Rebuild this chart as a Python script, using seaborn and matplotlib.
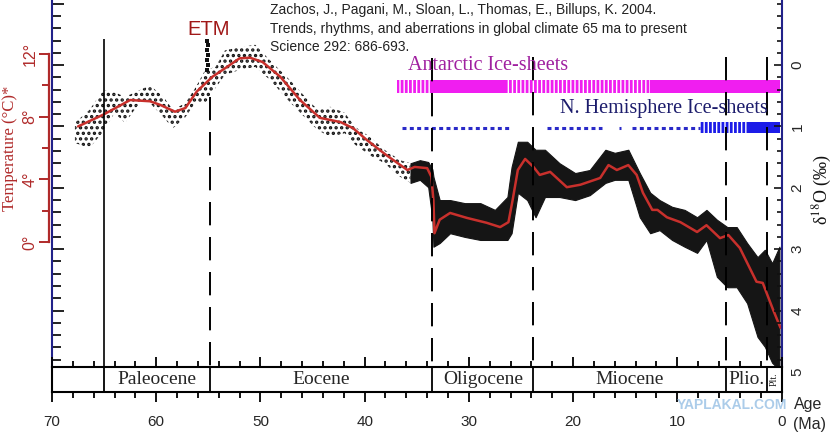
import numpy as np
import pandas as pd
import seaborn as sns
import matplotlib.pyplot as plt
import matplotlib.transforms as mtransforms
from matplotlib.ticker import MultipleLocator, FixedLocator

# smoothed d18O curve (age in Ma, d18O in permil)
curve_age = [67.5, 65.1, 62.5, 60.6, 59.6, 58.2, 57.2, 56.1, 54.6, 53.2,
             52.0, 51.0, 49.8, 48.1, 46.2, 44.3, 42.3, 41.1, 39.8, 37.9,
             35.9, 35.2, 34.0, 33.6, 33.4, 33.3, 32.8, 31.8, 30.2, 28.3,
             27.0, 26.2, 25.8, 25.3, 24.6, 23.8, 23.2, 22.2, 20.6, 19.3,
             17.4, 16.6, 15.8, 14.7, 13.9, 13.3, 12.4, 11.9, 11.0, 9.7,
             8.1, 7.2, 5.9, 5.1, 4.0, 2.4, 1.8, 0.8, 0.1]
curve_d18o = [1.00, 0.81, 0.57, 0.59, 0.65, 0.76, 0.70, 0.43, 0.19, 0.03,
              -0.11, -0.12, -0.05, 0.19, 0.57, 0.86, 0.93, 1.03, 1.22, 1.47,
              1.71, 1.66, 1.68, 1.82, 2.20, 2.74, 2.52, 2.41, 2.49, 2.57,
              2.64, 2.56, 2.20, 1.71, 1.53, 1.66, 1.79, 1.74, 1.99, 1.95,
              1.84, 1.63, 1.71, 1.63, 1.79, 2.08, 2.36, 2.36, 2.48, 2.56,
              2.72, 2.61, 2.82, 2.77, 2.98, 3.53, 3.55, 3.99, 4.28]

# spread of the sparse early data points
early_age = [67.8, 66.4, 65.1, 64.0, 63.0, 61.6, 60.6, 59.3, 58.4, 57.2,
             56.2, 55.3, 54.3, 53.4, 52.0, 50.5, 49.1, 47.2, 45.7, 44.5,
             43.3, 41.9, 40.9, 39.5, 38.1, 36.6, 35.6]
early_top = [0.94, 0.73, 0.41, 0.44, 0.52, 0.41, 0.33, 0.52, 0.73, 0.62,
             0.36, 0.08, 0.03, -0.24, -0.29, -0.33, -0.08, 0.24, 0.52, 0.73,
             0.68, 0.78, 1.01, 1.17, 1.38, 1.55, 1.60]
early_bot = [1.27, 1.35, 1.09, 0.78, 0.94, 0.62, 0.62, 0.85, 1.03, 0.85,
             0.60, 0.62, 0.37, 0.16, 0.08, 0.03, 0.24, 0.60, 0.86, 1.06,
             1.17, 1.11, 1.30, 1.47, 1.60, 1.82, 1.92]

# spread of the dense late data points
dense_age = [35.6, 34.7, 33.9, 33.5, 33.4, 32.8, 31.8, 30.4, 28.9, 27.5,
             26.3, 25.9, 25.3, 24.4, 23.6, 22.7, 21.3, 19.8, 18.4, 16.9,
             16.0, 14.7, 13.6, 12.6, 11.7, 10.5, 9.3, 8.1, 7.2, 6.2,
             5.2, 4.3, 3.3, 2.3, 1.6, 0.9, 0.2]
dense_top = [1.60, 1.55, 1.58, 1.70, 1.82, 2.20, 2.20, 2.25, 2.25, 2.36,
             2.15, 1.66, 1.25, 1.25, 1.38, 1.38, 1.60, 1.76, 1.71, 1.38,
             1.43, 1.38, 1.76, 2.08, 2.20, 2.31, 2.36, 2.48, 2.36, 2.52,
             2.64, 2.64, 2.90, 3.13, 3.01, 3.23, 2.96]
dense_bot = [1.92, 1.87, 1.99, 2.50, 2.96, 2.90, 2.74, 2.80, 2.85, 2.85,
             2.85, 2.74, 2.08, 2.20, 2.48, 2.15, 2.15, 2.20, 2.12, 1.92,
             1.87, 1.87, 2.48, 2.74, 2.69, 2.85, 2.96, 3.06, 2.85, 3.45,
             3.62, 3.62, 3.88, 4.43, 4.59, 4.85, 4.97]

# ETM spike
etm_age = [55.1, 55.0, 55.1, 55.0, 55.1, 55.0, 55.1]
etm_d18o = [-0.40, -0.32, -0.24, -0.16, -0.08, 0.00, 0.08]

# epochs
epoch_edges = [70.0, 65.0, 54.8, 33.5, 23.8, 5.3, 1.4, 0.0]
epoch_names = ["", "Paleocene", "Eocene", "Oligocene", "Miocene", "Plio.", "Plt."]

# ice sheets
ant_start = [36.9, 33.5, 26.4, 12.6]
ant_end = [33.5, 26.4, 12.6, 0.1]
ant_kind = ["partial", "full", "partial", "full"]
nh_start = [36.4, 22.5, 15.6, 14.3, 7.8, 3.3]
nh_end = [26.1, 17.2, 15.4, 7.8, 3.3, 0.1]
nh_kind = ["minor", "minor", "minor", "minor", "partial", "full"]

temp_ticks = [0, 4, 8, 12]
d18o_ticks = [0, 1, 2, 3, 4, 5]
age_ticks = [70, 60, 50, 40, 30, 20, 10, 0]

# %%
sns.set_style("white")
plt.rcParams['font.family'] = ['Liberation Sans', 'DejaVu Sans']
plt.rcParams['mathtext.fontset'] = 'stix'
plt.rcParams['hatch.linewidth'] = 2.0

W, H = 840, 442
NAVY = '#22228a'
DRED = '#b02a2a'
MAG = '#f01ef0'
BLUE = '#1c1ce8'


def px_box(x0, y0, x1, y1):
    return [x0 / W, 1 - y1 / H, (x1 - x0) / W, (y1 - y0) / H]


def ftext(x, y, s, **kw):
    return fig.text(x / W, 1 - y / H, s, **kw)


fig = plt.figure(figsize=(8.4, 4.42), dpi=100)
ax = fig.add_axes(px_box(52, 0, 781.5, 367))
YLIM = (4.92, -1.06)

# data cloud
with plt.rc_context({'hatch.linewidth': 1.6}):
    ax.fill_between(early_age, early_top, early_bot, facecolor='none',
                    edgecolor='#111111', hatch='...', linewidth=0, zorder=2)
ax.fill_between(dense_age, dense_top, dense_bot, color='#151515',
                linewidth=0.8, zorder=2)
sns.scatterplot(x=etm_age, y=etm_d18o, color='#111111', s=8, marker='s',
                linewidth=0, ax=ax, zorder=3)
sns.lineplot(x=curve_age, y=curve_d18o, sort=False, color='#c8302c',
             lw=1.8, ax=ax, zorder=4)

# ice sheet bars
for s, e, k in zip(ant_start, ant_end, ant_kind):
    if k == 'full':
        ax.fill_between([s, e], 0.24, 0.46, color=MAG, linewidth=0, zorder=3)
    else:
        ax.fill_between([s, e], 0.24, 0.46, facecolor='none', edgecolor=MAG,
                        hatch='||||', linewidth=0, zorder=3)
for s, e, k in zip(nh_start, nh_end, nh_kind):
    if k == 'full':
        ax.fill_between([s, e], 0.93, 1.11, color=BLUE, linewidth=0, zorder=3)
    elif k == 'partial':
        ax.fill_between([s, e], 0.93, 1.11, facecolor='none', edgecolor=BLUE,
                        hatch='||||', linewidth=0, zorder=3)
    else:
        ax.plot([s, e], [1.03, 1.03], color='#2a2ac8', lw=2.2,
                dashes=(1.3, 1.1), dash_capstyle='butt', zorder=3)

# epoch boundary lines
line_tops = [-0.42, 0.52, -0.12, -0.13, -0.13, -0.13]
for i, (a, t) in enumerate(zip(epoch_edges[1:-1], line_tops)):
    if i == 0:
        ax.vlines(a, t, YLIM[0], colors='black', lw=1.2, zorder=5)
    else:
        ax.vlines(a, t, YLIM[0], colors='black', lw=1.4,
                  linestyles=(0, (12, 6)), zorder=5)

ax.set_xlim(70, 0)
ax.set_ylim(*YLIM)
ax.set_xlabel('')
ax.set_ylabel('')
ax.set_xticks([])
for side in ['top', 'bottom', 'right']:
    ax.spines[side].set_visible(False)
ax.spines['left'].set_color(NAVY)
ax.spines['left'].set_linewidth(1.5)
ax.yaxis.set_major_locator(MultipleLocator(1))
ax.yaxis.set_minor_locator(MultipleLocator(0.2))
ax.tick_params(axis='y', which='both', left=True, right=False,
               labelleft=False, direction='in', color='#111111', width=1.3)
ax.tick_params(axis='y', which='major', length=8.6)
ax.tick_params(axis='y', which='minor', length=6.5)

# right d18O axis
rax = ax.twinx()
rax.set_ylim(*YLIM)
for side in ['top', 'bottom', 'left']:
    rax.spines[side].set_visible(False)
rax.spines['right'].set_color(NAVY)
rax.spines['right'].set_linewidth(1.5)
rax.yaxis.set_major_locator(FixedLocator(d18o_ticks))
rax.yaxis.set_minor_locator(MultipleLocator(0.2))
rax.tick_params(axis='y', which='both', direction='in', color='#111111',
                width=1.2, labelright=False)
rax.tick_params(axis='y', which='major', length=5.8)
rax.tick_params(axis='y', which='minor', length=3.6)
right_tr = mtransforms.blended_transform_factory(rax.transAxes, rax.transData)
for t in d18o_ticks:
    rax.text(1.0 + 16 / 729.5, t, str(t), transform=right_tr, rotation=90,
             ha='center', va='center', fontsize=11, clip_on=False)

# temperature axis (ice-free ocean)
tax = ax.twinx()
tax.set_ylim(-7.98, 15.44)
tax.yaxis.tick_left()
for side in ['top', 'bottom', 'right']:
    tax.spines[side].set_visible(False)
tax.spines['left'].set_position(('outward', 2.2))
tax.spines['left'].set_bounds(0, 12)
tax.spines['left'].set_color(DRED)
tax.spines['left'].set_linewidth(1.6)
tax.yaxis.set_major_locator(FixedLocator(temp_ticks))
tax.yaxis.set_minor_locator(FixedLocator([2, 6, 10]))
tax.set_yticklabels([f"{t}°" for t in temp_ticks])
tax.tick_params(axis='y', which='both', direction='out', color=DRED,
                width=1.4, labelcolor=DRED, labelsize=11.5,
                labelrotation=90, pad=1)
tax.tick_params(axis='y', which='major', length=7.2)
tax.tick_params(axis='y', which='minor', length=5.0)
for lab in tax.get_yticklabels():
    lab.set_va('center')

# time scale strip
bx = fig.add_axes(px_box(52, 367, 781.5, 392))
bx.set_xlim(70, 0)
bx.set_ylim(0, 1)
bx.set_yticks([])
for sp in bx.spines.values():
    sp.set_color('black')
    sp.set_linewidth(1.5)
bx.vlines(epoch_edges[1:-1], 0, 1, colors='black', lw=1.3)
for a0, a1, name in zip(epoch_edges[:-1], epoch_edges[1:], epoch_names):
    if name == 'Plt.':
        bx.text((a0 + a1) / 2, 0.5, name, ha='center', va='center',
                rotation=90, fontsize=7, family='Liberation Serif')
    elif name:
        bx.text((a0 + a1) / 2, 0.48, name, ha='center', va='center',
                fontsize=14, family='Liberation Serif')
bx.xaxis.set_major_locator(FixedLocator(age_ticks))
bx.xaxis.set_minor_locator(MultipleLocator(2))
bx.set_xticklabels([str(t) for t in age_ticks])
bx.tick_params(axis='x', which='both', top=True, bottom=True,
               direction='out', color='black', width=1.3, labelsize=11, pad=9)
bx.tick_params(axis='x', which='major', length=7.2)
bx.tick_params(axis='x', which='minor', length=4.5)

# texts
ftext(270, 10, "Zachos, J., Pagani, M., Sloan, L., Thomas, E., Billups, K. 2004.",
      fontsize=10, color='#222222', va='center')
ftext(270, 29, "Trends, rhythms, and aberrations in global climate 65 ma to present",
      fontsize=10, color='#222222', va='center')
ftext(270, 47, "Science 292: 686-693.", fontsize=10, color='#222222', va='center')
ftext(209, 29.5, "ETM", fontsize=14.5, color='#a01818', ha='center', va='center')
ftext(488, 65, "Antarctic Ice-sheets", fontsize=14.5, color='#a020a0',
      ha='center', va='center', family='Liberation Serif')
ftext(664, 108, "N. Hemisphere Ice-sheets", fontsize=14.5, color='#1c1c6c',
      ha='center', va='center', family='Liberation Serif')
ftext(10, 148, "Temperature (°C)*", fontsize=12, color=DRED, rotation=90,
      ha='center', va='center', family='Liberation Serif')
ftext(822, 190, "δ$^{18}$O (‰)", fontsize=13, color='#111111', rotation=90,
      ha='center', va='center', family='Liberation Serif')
ftext(732, 405, "YAPLAKAL.COM", fontsize=10, color='#9dc3e6', weight='bold',
      ha='center', va='center', alpha=0.85)
ftext(808, 405, "Age", fontsize=11.5, ha='center', va='center')
ftext(809, 425, "(Ma)", fontsize=11.5, ha='center', va='center')

plt.savefig("out.png", dpi=100)
